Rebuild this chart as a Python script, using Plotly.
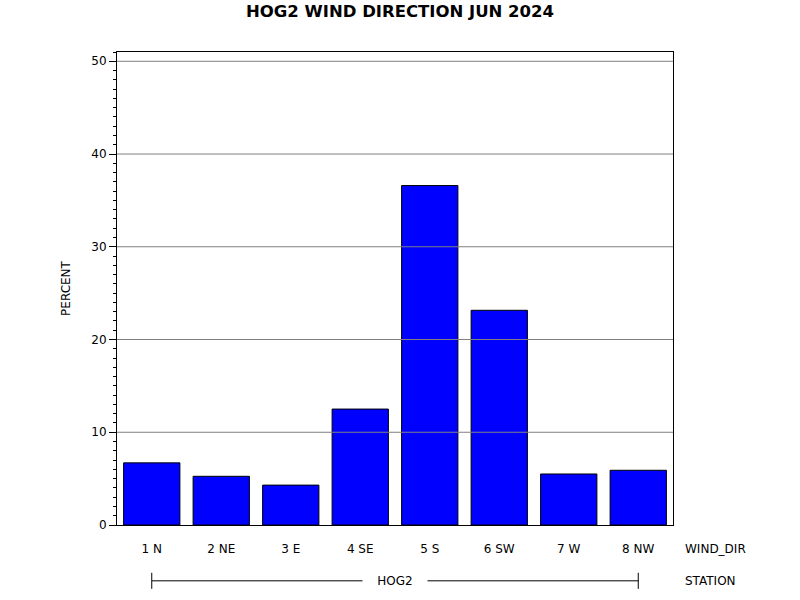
import plotly.graph_objects as go

categories = ["1 N", "2 NE", "3 E", "4 SE", "5 S", "6 SW", "7 W", "8 NW"]
percent = [6.7, 5.25, 4.3, 12.5, 36.6, 23.15, 5.5, 5.9]
y_ticks = [0, 10, 20, 30, 40, 50]
station = "HOG2"

FONT = "DejaVu Sans"

fig = go.Figure()
fig.add_trace(go.Bar(
    x=categories, y=percent,
    marker=dict(color="#0000ff", line=dict(color="black", width=1)),
    hoverinfo="skip",
))

# gridlines drawn above the bars
for v in y_ticks[1:]:
    fig.add_shape(type="line", xref="paper", yref="y", x0=0, x1=1, y0=v, y1=v,
                  line=dict(color="#808080", width=1), layer="above")

# station bracket
ys = -0.118
fig.add_shape(type="line", xref="x", yref="paper", x0=categories[0], x1=categories[-1],
              y0=ys, y1=ys, line=dict(color="black", width=1))
for c in (categories[0], categories[-1]):
    fig.add_shape(type="line", xref="x", yref="paper", x0=c, x1=c,
                  y0=ys - 0.017, y1=ys + 0.017, line=dict(color="black", width=1))
fig.add_annotation(x=3.5, xref="x", y=ys, yref="paper", text=station, showarrow=False,
                   bgcolor="white", borderpad=3, xanchor="center", yanchor="middle",
                   font=dict(family=FONT, size=12, color="black"),
                   width=58)

fig.add_annotation(x=1.018, xref="paper", y=-0.05, yref="paper", text="WIND_DIR",
                   showarrow=False, xanchor="left", yanchor="middle",
                   font=dict(family=FONT, size=12, color="black"))
fig.add_annotation(x=1.018, xref="paper", y=ys, yref="paper", text="STATION",
                   showarrow=False, xanchor="left", yanchor="middle",
                   font=dict(family=FONT, size=12, color="black"))

fig.update_layout(
    width=800, height=600,
    margin=dict(l=117, r=127, t=52, b=75),
    paper_bgcolor="white", plot_bgcolor="white",
    showlegend=False,
    bargap=0.19,
    title=dict(text="<b>HOG2 WIND DIRECTION JUN 2024</b>", x=0.5, xanchor="center",
               y=1 - 11.5 / 600, yanchor="middle",
               font=dict(family=FONT, size=16.5, color="black")),
    font=dict(family=FONT, size=12, color="black"),
    xaxis=dict(
        showline=True, linecolor="black", linewidth=1, mirror=True,
        ticks="", showgrid=False, ticklabelstandoff=13,
        tickfont=dict(family=FONT, size=12, color="black"),
    ),
    yaxis=dict(
        range=[0, 51], showline=True, linecolor="black", linewidth=1, mirror=True,
        tickvals=y_ticks, ticks="outside", ticklen=7, tickcolor="black", tickwidth=1,
        minor=dict(dtick=1, ticks="outside", ticklen=3, tickcolor="black", showgrid=False),
        showgrid=False, zeroline=False,
        tickfont=dict(family=FONT, size=12, color="black"),
        title=dict(text="PERCENT", standoff=18, font=dict(family=FONT, size=12, color="black")),
    ),
)

fig.write_html("out.html", config={"displayModeBar": False},
               post_script="document.body.style.margin='0';document.body.style.overflow='hidden';")
